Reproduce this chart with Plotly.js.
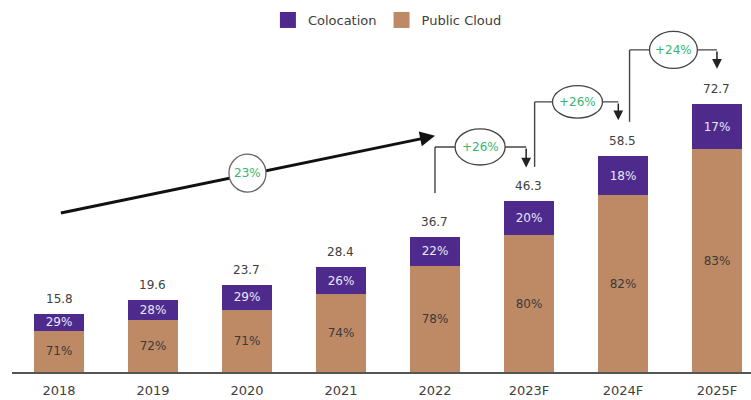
<!DOCTYPE html>
<html>
<head>
<meta charset="utf-8">
<script src="https://cdn.plot.ly/plotly-3.0.1.min.js"></script>
<style>html,body{margin:0;padding:0;background:#fff;}#chart{width:751px;height:400px;}</style>
</head>
<body>
<div id="chart"></div>
<script>
// ---- data ----
const categories = ["2018","2019","2020","2021","2022","2023F","2024F","2025F"];
const totals = [15.8, 19.6, 23.7, 28.4, 36.7, 46.3, 58.5, 72.7];
const colocationShare = [29, 28, 29, 26, 22, 20, 18, 17];
const publicCloudShare = [71, 72, 71, 74, 78, 80, 82, 83];
const cagrLabel = "23%";
const growthLabels = ["+26%", "+26%", "+24%"];

// segment values from total x share
const colocation = totals.map((t, i) => t * colocationShare[i] / 100);
const publicCloud = totals.map((t, i) => t * publicCloudShare[i] / 100);

const PURPLE = '#4E2A8C';
const TAN = '#BD8A65';
const GREEN = '#38B56F';
const FONT = 'DejaVu Sans, Verdana, sans-serif';

const traces = [
  {
    type: 'bar', name: 'Public Cloud', x: categories, y: publicCloud,
    marker: {color: TAN, line: {width: 0}},
    text: publicCloudShare.map(v => v + '%'),
    textposition: 'inside', insidetextanchor: 'middle', textangle: 0,
    textfont: {family: FONT, size: 12, color: '#3a3a3a'},
    width: 0.54, hoverinfo: 'skip', showlegend: false, legendgroup: 'pc'
  },
  {
    type: 'bar', name: 'Colocation', x: categories, y: colocation,
    marker: {color: PURPLE, line: {width: 0}},
    text: colocationShare.map(v => v + '%'),
    textposition: 'inside', insidetextanchor: 'middle', textangle: 0,
    textfont: {family: FONT, size: 12, color: '#ECE6F7'},
    width: 0.54, hoverinfo: 'skip', showlegend: false, legendgroup: 'co'
  },
  // legend keys (large squares like the reference)
  {type: 'scatter', mode: 'markers', name: 'Colocation', x: [null], y: [null], legendgroup: 'co',
    marker: {symbol: 'square', size: 26, color: PURPLE}, hoverinfo: 'skip'},
  {type: 'scatter', mode: 'markers', name: 'Public Cloud', x: [null], y: [null], legendgroup: 'pc',
    marker: {symbol: 'square', size: 26, color: TAN}, hoverinfo: 'skip'}
];

const annotations = [];
// totals above bars (x as category index)
categories.forEach((c, i) => {
  annotations.push({
    x: i, y: totals[i], xref: 'x', yref: 'y', text: totals[i].toFixed(1),
    showarrow: false, yanchor: 'bottom', yshift: 6,
    font: {family: FONT, size: 12, color: '#404040'}
  });
});

const shapes = [];
const GREY = '#444444';
// long CAGR arrow
const bigStart = {x: 0.02, y: 43.1}, bigEnd = {x: 4.0, y: 64.0};
shapes.push({type: 'line', xref: 'x', yref: 'y', x0: bigStart.x, y0: bigStart.y, x1: bigEnd.x - 0.05, y1: bigEnd.y - 0.27,
  line: {color: '#111', width: 3}});
annotations.push({x: bigEnd.x, y: bigEnd.y, xref: 'x', yref: 'y', ax: -15, ay: 3.1, text: '',
  showarrow: true, arrowhead: 2, arrowsize: 1, arrowwidth: 3, arrowcolor: '#111'});
// circle for CAGR
shapes.push({type: 'circle', xref: 'x', yref: 'y', x0: 2.005 - 0.197, x1: 2.005 + 0.197, y0: 53.9 - 5.15, y1: 53.9 + 5.15,
  fillcolor: '#fff', line: {color: '#666', width: 1.3}});
annotations.push({x: 2.005, y: 53.9, xref: 'x', yref: 'y', text: cagrLabel, showarrow: false,
  font: {family: FONT, size: 12, color: GREEN}});

// elbow growth arrows: [xStart, yStart, yTop, xEnd, yTip, ellipseX, halfW, halfH]
const elbows = [
  [4.0, 48.5, 61.0, 4.97, 55.4, 4.48, 0.266, 4.9],
  [5.06, 55.6, 73.2, 5.95, 68.2, 5.516, 0.266, 4.4],
  [6.07, 67.8, 87.3, 7.0, 82.2, 6.537, 0.255, 5.0]
];
elbows.forEach((e, k) => {
  const [xs, ys, yt, xe, ytip, ex, hw, hh] = e;
  shapes.push({type: 'line', xref: 'x', yref: 'y', x0: xs, y0: ys, x1: xs, y1: yt, line: {color: GREY, width: 1.4}});
  shapes.push({type: 'line', xref: 'x', yref: 'y', x0: xs, y0: yt, x1: xe, y1: yt, line: {color: GREY, width: 1.4}});
  shapes.push({type: 'circle', xref: 'x', yref: 'y', x0: ex - hw, x1: ex + hw, y0: yt - hh, y1: yt + hh,
    fillcolor: '#fff', line: {color: '#444', width: 1.3}});
  annotations.push({x: xe, y: ytip, xref: 'x', yref: 'y', axref: 'x', ayref: 'y', ax: xe, ay: yt, text: '',
    showarrow: true, arrowhead: 2, arrowsize: 1.3, arrowwidth: 1.5, arrowcolor: '#222'});
  annotations.push({x: ex, y: yt, xref: 'x', yref: 'y', text: growthLabels[k], showarrow: false,
    font: {family: FONT, size: 12, color: GREEN}});
});

const layout = {
  width: 751, height: 400,
  margin: {l: 12, r: 0, t: 20, b: 28},
  paper_bgcolor: '#fff', plot_bgcolor: '#fff',
  barmode: 'stack',
  font: {family: FONT, size: 12, color: '#404040'},
  showlegend: true,
  legend: {orientation: 'h', x: 0.508, xanchor: 'center', y: 1.0, yanchor: 'middle',
    traceorder: 'normal', itemsizing: 'trace', font: {family: FONT, size: 13, color: '#404040'}, bgcolor: 'rgba(0,0,0,0)'},
  xaxis: {type: 'category', range: [-0.5, 7.362], showgrid: false, zeroline: false,
    showline: true, linecolor: '#555', linewidth: 2, ticks: '', ticklabelstandoff: 5,
    tickfont: {family: FONT, size: 13, color: '#404040'}, fixedrange: true},
  yaxis: {range: [0, 95.4], showgrid: false, zeroline: false, showline: false, showticklabels: false, ticks: '', fixedrange: true},
  uniformtext: {mode: 'show', minsize: 12},
  shapes: shapes,
  annotations: annotations
};

Plotly.newPlot('chart', traces, layout, {displayModeBar: false, staticPlot: true});
</script>
</body>
</html>
